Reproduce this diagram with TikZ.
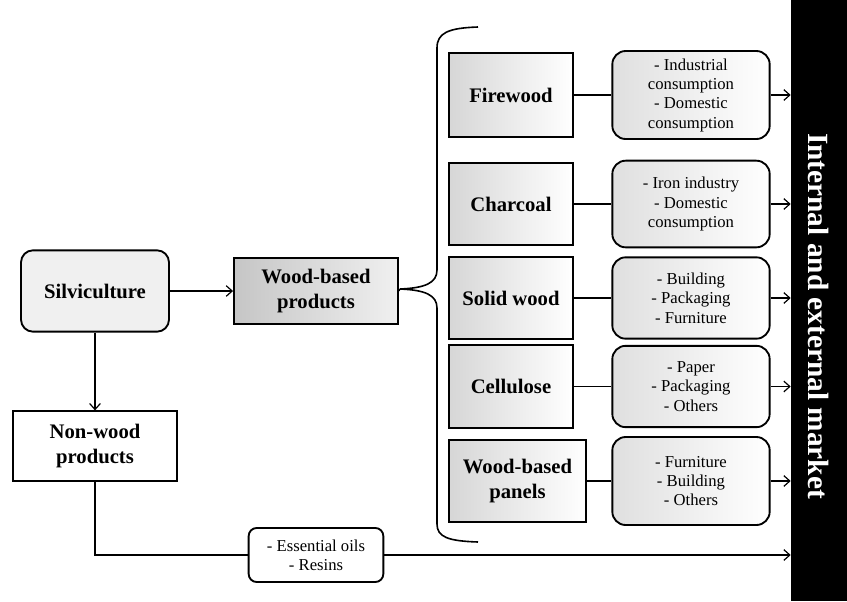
\documentclass[tikz,border=0pt]{standalone}
\usepackage{fontspec}
\setmainfont{Liberation Serif}
\usetikzlibrary{arrows.meta}

\begin{document}
\begin{tikzpicture}[x=0.75pt, y=-0.75pt,
        every node/.style={align=center, inner sep=0pt},
        mainbox/.style={draw, line width=1.4pt, font=\bfseries\fontsize{15.5}{19}\selectfont},
        prodbox/.style={mainbox, left color=gray!32, right color=white, minimum width=93pt},
        usebox/.style={draw, line width=1.4pt, rounded corners=10pt, left color=gray!25, right color=white,
            minimum width=118pt, font=\fontsize{12.5}{14.5}\selectfont},
        link/.style={draw, line width=0.9pt},
        arrow/.style={link, -{Straight Barb[length=4.5pt, width=8pt, line width=0.9pt]}}]

    \useasboundingbox (0,0) rectangle (847,601);

    % Market bar
    \node[fill=black, minimum width=42pt, minimum height=451pt] (mkt) at (819,300.5) {};
    \node[text=white, rotate=-90, font=\bfseries\fontsize{22}{26}\selectfont] (mkttext) at (819,316) {Internal and external market};

    % Left side
    \node[mainbox, rounded corners=9pt, fill=gray!12, minimum width=111pt, minimum height=61pt] (silv) at (95,291) {Silviculture};
    \node[mainbox, left color=gray!45, right color=gray!12, minimum width=123pt, minimum height=50pt] (wbp) at (316,291) {Wood-based\\products};
    \node[mainbox, fill=white, minimum width=123pt, minimum height=52pt] (nwp) at (95,446) {Non-wood\\products};
    \node[usebox, rounded corners=6pt, left color=white, right color=white, minimum width=101pt, minimum height=40.5pt] (oils) at (316,555) {- Essential oils\\- Resins};

    % Brace
    \coordinate (brtop) at (478,27);
    \coordinate (brbot) at (478,542);
    \coordinate (brtip) at (400,289);
    \draw[line width=1.2pt] (brtop) .. controls (448,28) and (437,33) .. (437,48) -- (437,270)
        .. controls (437,283) and (425,288) .. (brtip)
        .. controls (425,290) and (437,295) .. (437,308) -- (437,524)
        .. controls (437,537) and (448,541) .. (brbot);

    % Wood products
    \node[prodbox, minimum height=63pt] (fire) at (511,95) {Firewood};
    \node[prodbox, minimum height=61.5pt] (char) at (511,204) {Charcoal};
    \node[prodbox, minimum height=61.5pt] (solid) at (511,298) {Solid wood};
    \node[prodbox, minimum height=62pt] (cell) at (511,386.5) {Cellulose};
    \node[prodbox, minimum width=103pt, minimum height=61.5pt] (panel) at (517.5,481) {Wood-based\\panels};

    % Uses
    \node[usebox, minimum height=66pt] (ufire) at (691,95) {- Industrial\\consumption\\- Domestic\\consumption};
    \node[usebox, minimum height=65pt] (uchar) at (691,204) {- Iron industry\\- Domestic\\consumption};
    \node[usebox, minimum height=61pt] (usolid) at (691,298) {- Building\\- Packaging\\- Furniture};
    \node[usebox, minimum height=61pt] (ucell) at (691,386.5) {- Paper\\- Packaging\\- Others};
    \node[usebox, minimum height=66pt] (upanel) at (691,481) {- Furniture\\- Building\\- Others};

    % Connectors
    \draw[arrow] (silv) -- (wbp);
    \draw[arrow] (silv) -- (nwp);
    \draw[link] (wbp.east) -- (brtip);
    \draw[link] (nwp.south) |- (oils.west);
    \draw[arrow] (oils.east) -- (oils.east -| mkt.west);

    \draw[link] (fire) -- (ufire);
    \draw[link] (char) -- (uchar);
    \draw[link] (solid) -- (usolid);
    \draw[link] (cell) -- (ucell);
    \draw[link] (panel) -- (upanel);

    \draw[arrow] (ufire.east) -- (ufire.east -| mkt.west);
    \draw[arrow] (uchar.east) -- (uchar.east -| mkt.west);
    \draw[arrow] (usolid.east) -- (usolid.east -| mkt.west);
    \draw[arrow] (ucell.east) -- (ucell.east -| mkt.west);
    \draw[arrow] (upanel.east) -- (upanel.east -| mkt.west);
\end{tikzpicture}
\end{document}
